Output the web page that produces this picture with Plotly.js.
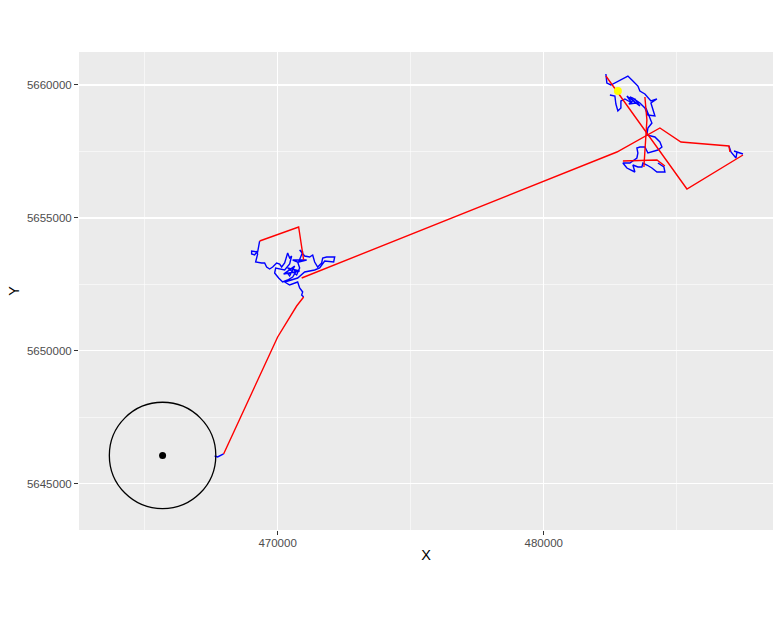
<!DOCTYPE html>
<html>
<head>
<meta charset="utf-8">
<script src="https://cdn.plot.ly/plotly-3.0.1.min.js"></script>
<style>html,body{margin:0;padding:0;background:#fff;}#chart{width:782px;height:617px;}</style>
</head>
<body>
<div id="chart"></div>
<script>
// Red segments (gaps in the track), separated by null
const redX = [467971, 470002, 470716, 470979, null,
  469325, 470791, 470979, null,
  470904, 482748, 484365, 485155, 486959, 486997, null,
  487486, 485380, 482335, null,
  483801, 483876, 483763, null,
  482974, 484252, 484553];
const redY = [5646125, 5650524, 5651689, 5652028, null,
  5654133, 5654660, 5653419, null,
  5652742, 5657480, 5658382, 5657856, 5657705, 5657480, null,
  5657367, 5656089, 5660337, null,
  5659547, 5658682, 5656916, null,
  5657141, 5657179, 5656953];

// Blue track segments
const blueX = [467633, 467746, 467971, null,
  469325, 469250, 469024, 469024, 469137, 469212, 469250, 469175, 469400, 469513, 469588, 469701, 469814, 469964, 470077, 470152, 470265, 470340, 470378, 470453, 470528, 470453, 470265, 469927, 469889, 470039, 470190, 470378, 470566, 470679, 470566, 470340, 470453, 470641, 470227, 470829, 470378, 470716, 470829, 470754, 470566, 471092, 470791, 470942, 470829, 471017, 471205, 471318, 471393, 471506, 471656, 471694, 471844, 472145, 472107, 471769, 471581, 471393, 471017, 470754, 470528, 470265, 470453, 470754, 470829, 470942, 470904, 470979, null,
  482335, 482372, 482523, 482899, 483162, 483350, 483538, 483613, 483801, 484027, 484252, 484027, 484102, 484177, 483914, 483801, 483613, 483350, 483237, 483463, 483199, 483425, 483613, 483124, 483312, 483162, 483049, 482899, 482899, 482786, 482711, 482673, 482485, null,
  483839, 483989, 484064, 483914, 483876, 484177, 484365, 484440, 484290, 483914, 483801, 483613, 483500, 483538, 483500, 483237, 482974, 483124, 483312, 483425, 483350, 483538, 483688, 483726, 483876, 484064, 484252, 484553, 484515, 484290, null,
  486959, 487035, 487223, 487260, 487147, 487486];
const blueY = [5646049, 5646012, 5646125, null,
  5654133, 5653720, 5653757, 5653645, 5653607, 5653720, 5653645, 5653344, 5653306, 5653306, 5653156, 5653081, 5653156, 5653306, 5653269, 5653156, 5653306, 5653532, 5653682, 5653494, 5653569, 5653269, 5653043, 5653118, 5652930, 5652742, 5652592, 5652667, 5652780, 5652968, 5653118, 5652968, 5652817, 5653193, 5652893, 5653005, 5653118, 5652855, 5653118, 5653344, 5653419, 5653419, 5653344, 5653720, 5653795, 5653569, 5653532, 5653607, 5653344, 5653156, 5653306, 5653494, 5653532, 5653532, 5653344, 5653381, 5653118, 5653043, 5652968, 5652742, 5652667, 5652592, 5652479, 5652592, 5652366, 5652216, 5652103, 5652028, null,
  5660413, 5660074, 5659999, 5660187, 5660337, 5660149, 5659961, 5659773, 5659661, 5659397, 5659473, 5659322, 5659059, 5658833, 5658871, 5659134, 5659322, 5659510, 5659548, 5659322, 5659285, 5659473, 5659209, 5659585, 5659322, 5659397, 5659473, 5659397, 5659134, 5659021, 5659285, 5659585, 5659623, null,
  5659134, 5658796, 5658570, 5658382, 5658119, 5658044, 5657856, 5657668, 5657555, 5657442, 5657668, 5657668, 5657630, 5657442, 5657254, 5657066, 5657066, 5656878, 5656803, 5656728, 5656991, 5656916, 5656916, 5657066, 5656991, 5656878, 5656728, 5656728, 5656916, 5657066, null,
  5657705, 5657480, 5657254, 5657480, 5657517, 5657405];

// Point markers
const centreX = [465678];
const centreY = [5646070];
const bufferRadius = 2000;
const currentX = [482786];
const currentY = [5659773];

// Axis ticks
const xTicks = [470000, 480000];
const yTicks = [5645000, 5650000, 5655000, 5660000];

const traces = [
  {x: blueX, y: blueY, type: 'scatter', mode: 'lines', line: {color: '#0000FF', width: 1.4}, connectgaps: false, hoverinfo: 'skip'},
  {x: redX, y: redY, type: 'scatter', mode: 'lines', line: {color: '#FF0000', width: 1.4}, connectgaps: false, hoverinfo: 'skip'},
  {x: centreX, y: centreY, type: 'scatter', mode: 'markers', marker: {color: '#000000', size: 7}},
  {x: currentX, y: currentY, type: 'scatter', mode: 'markers', marker: {color: '#FFFF00', size: 8}}
];

const axisCommon = {
  showline: false, zeroline: false,
  gridcolor: '#FFFFFF', gridwidth: 1.1,
  ticks: 'outside', ticklen: 4, tickwidth: 1, tickcolor: '#333333',
  tickfont: {family: 'Liberation Sans, Arial, sans-serif', size: 11.5, color: '#4D4D4D'},
  tickformat: 'd', tickmode: 'array'
};

const layout = {
  width: 782, height: 617,
  paper_bgcolor: '#FFFFFF', plot_bgcolor: '#EBEBEB',
  margin: {l: 79, r: 9, t: 52, b: 87},
  showlegend: false,
  font: {family: 'Liberation Sans, Arial, sans-serif'},
  xaxis: Object.assign({}, axisCommon, {
    range: [462538, 488614], tickvals: xTicks, ticktext: xTicks.map(String),
    ticklabelstandoff: -2,
    minor: {tickmode: 'array', tickvals: [465000, 475000, 485000], showgrid: true, gridcolor: '#FFFFFF', gridwidth: 0.55, ticks: ''},
    title: {text: 'X', font: {size: 14.5, color: '#000000'}, standoff: 2}
  }),
  yaxis: Object.assign({}, axisCommon, {
    range: [5643267, 5661240], tickvals: yTicks, ticktext: yTicks.map(String),
    minor: {tickmode: 'array', tickvals: [5647500, 5652500, 5657500], showgrid: true, gridcolor: '#FFFFFF', gridwidth: 0.55, ticks: ''},
    title: {text: 'Y', font: {size: 14.5, color: '#000000'}, standoff: 3}
  }),
  shapes: [{
    type: 'circle', xref: 'x', yref: 'y',
    x0: centreX[0] - bufferRadius, x1: centreX[0] + bufferRadius,
    y0: centreY[0] - bufferRadius, y1: centreY[0] + bufferRadius,
    line: {color: '#000000', width: 1.3}, layer: 'above'
  }]
};

Plotly.newPlot('chart', traces, layout, {staticPlot: true, displayModeBar: false});
</script>
</body>
</html>
